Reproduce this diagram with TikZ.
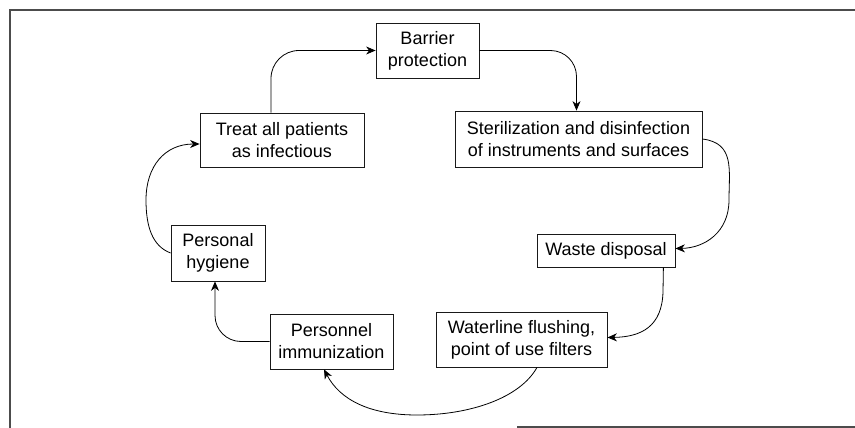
\documentclass[tikz,border=0pt]{standalone}
\usepackage{fontspec}
\setmainfont{Liberation Sans}
\usetikzlibrary{arrows.meta,calc}
\begin{document}
\begin{tikzpicture}[x=1pt,y=-1pt,
  box/.style={draw=black!90,line width=0.8pt,rectangle,inner sep=0pt,align=center,
    font=\fontsize{18}{22}\selectfont},
  arr/.style={draw=black,line width=0.8pt,-{Stealth[length=9.5pt,width=8pt,inset=3pt]}},
  frame/.style={draw=black!70,line width=1.1pt}]
\useasboundingbox (0,0) rectangle (855,428);
% frame
\draw[frame] (10,428) -- (10,10) -- (855,10);
\draw[frame] (517,427) -- (855,427);
% boxes
\node[box,minimum width=103pt,minimum height=55pt] (barrier) at (427.5,50.5) {Barrier\\protection};
\node[box,minimum width=164pt,minimum height=54pt] (treat) at (282,140) {Treat all patients\\as infectious};
\node[box,minimum width=247pt,minimum height=56pt] (steril) at (578.5,139) {Sterilization and disinfection\\of instruments and surfaces};
\node[box,minimum width=138pt,minimum height=33pt] (waste) at (606,250.5) {Waste disposal};
\node[box,minimum width=94pt,minimum height=56pt] (hyg) at (218,253) {Personal\\hygiene};
\node[box,minimum width=123pt,minimum height=55pt] (immun) at (331.5,341.5) {Personnel\\immunization};
\node[box,minimum width=171pt,minimum height=55pt] (water) at (521.5,339.5) {Waterline flushing,\\point of use filters};
% connectors
\draw[arr,rounded corners=28pt] ($(treat.north)+(-11,0)$) |- (barrier.west);
\draw[arr,rounded corners=26pt] (barrier.east) -| ($(steril.north)+(-2,0)$);
\draw[arr] (steril.east) .. controls (735,143) and (729,170) .. (729,200)
  .. controls (729,232) and (705,248) .. ($(waste.east)+(0,-2)$);
\draw[arr] ($(waste.south east)+(-12,0)$) -- (663,292)
  .. controls (662,326) and (642,337) .. ($(water.east)+(0,-2)$);
\draw[arr] ($(water.south)+(15.5,0)$) .. controls (520,398) and (470,415) .. (417,415)
  .. controls (370,415) and (340,400) .. ($(immun.south)+(-7.5,0)$);
\draw[arr,rounded corners=26pt] (immun.west) -| ($(hyg.south)+(-3,0)$);
\draw[arr] (hyg.west) .. controls (152,246) and (146,226) .. (146,200)
  .. controls (146,166) and (165,144) .. ($(treat.west)+(0,4)$);
\end{tikzpicture}
\end{document}
